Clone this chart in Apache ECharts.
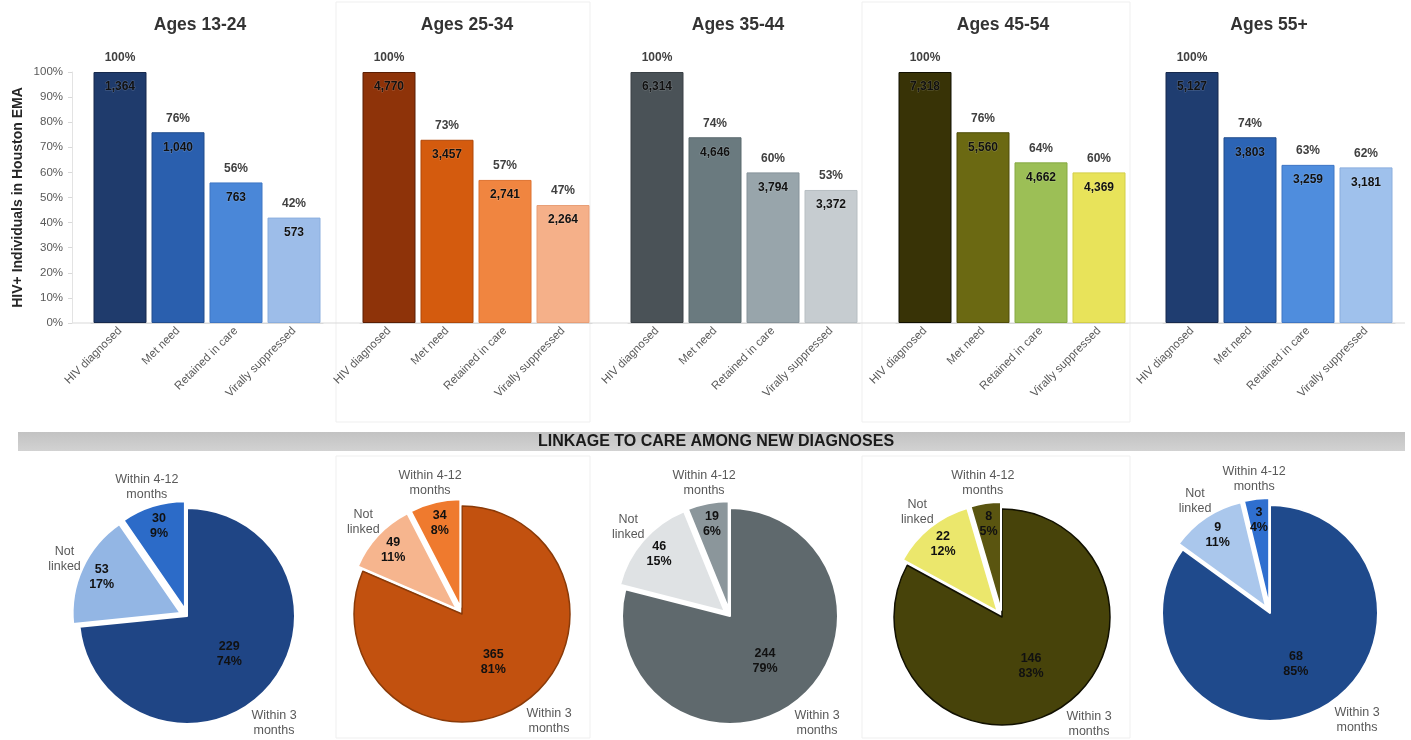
<!DOCTYPE html>
<html>
<head>
<meta charset="utf-8">
<script src="https://cdn.jsdelivr.net/npm/echarts@6/dist/echarts.min.js"></script>
<style>
  html, body { margin: 0; padding: 0; background: #fff; }
  #chart { width: 1411px; height: 740px; }
</style>
</head>
<body>
<div id="chart"></div>
<script>
// care continuum by age group
const ageGroups = ['Ages 13-24', 'Ages 25-34', 'Ages 35-44', 'Ages 45-54', 'Ages 55+'];
const stages = ['HIV diagnosed', 'Met need', 'Retained in care', 'Virally suppressed'];

const stagePct1324 = [100, 76, 56, 42];
const stagePct2534 = [100, 73, 57, 47];
const stagePct3544 = [100, 74, 60, 53];
const stagePct4554 = [100, 76, 64, 60];
const stagePct55 = [100, 74, 63, 62];

const stageCount1324 = [1364, 1040, 763, 573];
const stageCount2534 = [4770, 3457, 2741, 2264];
const stageCount3544 = [6314, 4646, 3794, 3372];
const stageCount4554 = [7318, 5560, 4662, 4369];
const stageCount55 = [5127, 3803, 3259, 3181];

// linkage to care among new diagnoses
const linkCats = ['Within 3 months', 'Not linked', 'Within 4-12 months'];
const linkLabels = ['Within 3\nmonths', 'Not\nlinked', 'Within 4-12\nmonths'];
const link1324 = [229, 53, 30];
const link2534 = [365, 49, 34];
const link3544 = [244, 46, 19];
const link4554 = [146, 22, 8];
const link55 = [68, 9, 3];
const linkPct1324 = [74, 17, 9];
const linkPct2534 = [81, 11, 8];
const linkPct3544 = [79, 15, 6];
const linkPct4554 = [83, 12, 5];
const linkPct55 = [85, 11, 4];

const stagePct = [stagePct1324, stagePct2534, stagePct3544, stagePct4554, stagePct55];
const stageCount = [stageCount1324, stageCount2534, stageCount3544, stageCount4554, stageCount55];
const link = [link1324, link2534, link3544, link4554, link55];
const linkPct = [linkPct1324, linkPct2534, linkPct3544, linkPct4554, linkPct55];

// styling
const barColors = [
  ['#1f3b6c', '#2a5fae', '#4a87d8', '#9dbde9'],
  ['#8e3309', '#d45b0e', '#f08540', '#f5b089'],
  ['#4a5257', '#6a7a7f', '#98a5ab', '#c6ccd0'],
  ['#383306', '#6b6912', '#9cbf56', '#e8e35a'],
  ['#1f3d70', '#2c64b5', '#4f8ddd', '#9fc1ec']
];
const barBorders = [
  ['#16294d', '#214c8c', '#3e76c4', '#8aaede'],
  ['#5a1e04', '#b04808', '#de7230', '#e89e76'],
  ['#3a4146', '#5b6a6f', '#86939a', '#b7bec2'],
  ['#111000', '#4e4c08', '#86a942', '#d3ce48'],
  ['#16294d', '#214c8c', '#3e76c4', '#8aaede']
];
const pieColors = [
  ['#1f4585', '#93b6e4', '#2c6bc8'],
  ['#c2510f', '#f6b58e', '#ef7a2e'],
  ['#5f696d', '#dfe2e4', '#8b969b'],
  ['#47430a', '#ebe76c', '#5a5510'],
  ['#1f4a8c', '#aac7ec', '#2f6fcf']
];
const pieMainBorder = ['#ffffff', '#8a3a08', '#ffffff', '#111000', '#ffffff'];

const gridLefts = [91, 360, 628, 896, 1163];
const titleCenters = [200, 467, 738, 1003, 1269];
const pieCenters = [[187, 616], [462, 614], [730, 616], [1002, 617], [1270, 613]];
const pieR = 108;

const grids = [], xAxes = [], yAxes = [], series = [];

ageGroups.forEach((g, i) => {
  grids.push({ left: gridLefts[i], top: 72, width: 232, height: 251, outerBoundsMode: 'none' });
  xAxes.push({
    type: 'category',
    gridIndex: i,
    data: stages,
    axisTick: { show: false },
    axisLine: { lineStyle: { color: '#d9d9d9' } },
    axisLabel: { interval: 0, rotate: 45, fontSize: 11.5, color: '#595959', margin: 6, fontFamily: 'Arial' }
  });
  const first = i === 0;
  yAxes.push({
    type: 'value',
    gridIndex: i,
    min: 0,
    max: 100,
    interval: 10,
    offset: first ? 19 : 0,
    show: first,
    name: first ? 'HIV+ Individuals in Houston EMA' : '',
    nameLocation: 'middle',
    nameGap: 47,
    nameTextStyle: { fontSize: 14, fontWeight: 'bold', color: '#262626', fontFamily: 'Arial' },
    splitLine: { show: false },
    axisLine: { show: first, lineStyle: { color: '#e3e3e3' } },
    axisTick: { show: first, length: 4, lineStyle: { color: '#d9d9d9' } },
    axisLabel: { show: first, formatter: '{value}%', fontSize: 11.5, color: '#595959', margin: 9, fontFamily: 'Arial' }
  });

  series.push({
    type: 'bar',
    xAxisIndex: i,
    yAxisIndex: i,
    barWidth: 53,
    barGap: '-100%',
    data: stagePct[i].map((v, j) => ({
      value: v,
      itemStyle: { color: barColors[i][j], borderColor: barBorders[i][j], borderWidth: 1 }
    })),
    label: {
      show: true,
      position: 'insideTop',
      distance: 9,
      fontSize: 12,
      fontWeight: 'bold',
      fontFamily: 'Arial',
      color: '#111',
      textBorderColor: 'rgba(255,255,255,0.2)',
      textBorderWidth: 1,
      formatter: p => stageCount[i][p.dataIndex].toLocaleString('en-US')
    },
    silent: true
  });
  series.push({
    type: 'bar',
    xAxisIndex: i,
    yAxisIndex: i,
    barWidth: 53,
    barGap: '-100%',
    data: stagePct[i],
    itemStyle: { color: 'rgba(0,0,0,0)' },
    label: {
      show: true,
      position: 'top',
      distance: 8,
      fontSize: 12,
      fontWeight: 'bold',
      fontFamily: 'Arial',
      color: '#404040',
      formatter: p => p.value + '%'
    },
    silent: true
  });

  const c = pieCenters[i];
  // visible pie, label for main slice
  series.push({
    type: 'pie',
    center: c,
    radius: pieR,
    startAngle: 90,
    selectedMode: 'multiple',
    selectedOffset: 7,
    silent: true,
    data: link[i].map((v, j) => ({
      value: v,
      name: linkCats[j],
      selected: j > 0,
      itemStyle: {
        color: pieColors[i][j],
        borderColor: j === 0 ? pieMainBorder[i] : '#ffffff',
        borderWidth: j === 0 && pieMainBorder[i] !== '#ffffff' ? 1.5 : 2
      },
      label: { show: j === 0 }
    })),
    label: {
      position: 'inside',
      fontSize: 12.5,
      fontWeight: 'bold',
      fontFamily: 'Arial',
      color: '#111',
      lineHeight: 15,
      formatter: p => p.value + '\n' + linkPct[i][p.dataIndex] + '%'
    },
    labelLine: { show: false }
  });
  // labels for the small slices, further out
  series.push({
    type: 'pie',
    center: c,
    radius: [60, pieR],
    startAngle: 90,
    selectedMode: 'multiple',
    selectedOffset: 7,
    silent: true,
    itemStyle: { color: 'rgba(0,0,0,0)' },
    data: link[i].map((v, j) => ({ value: v, name: linkCats[j], selected: j > 0, label: { show: j > 0 } })),
    label: {
      position: 'inside',
      fontSize: 12.5,
      fontWeight: 'bold',
      fontFamily: 'Arial',
      color: '#111',
      lineHeight: 15,
      formatter: p => p.value + '\n' + linkPct[i][p.dataIndex] + '%'
    },
    labelLine: { show: false }
  });
  // category names around the pie
  series.push({
    type: 'pie',
    center: c,
    radius: [118, 146],
    startAngle: 90,
    silent: true,
    itemStyle: { color: 'rgba(0,0,0,0)' },
    data: link[i].map((v, j) => ({ value: v, name: linkCats[j] })),
    label: {
      position: 'inside',
      fontSize: 12.5,
      fontFamily: 'Arial',
      color: '#595959',
      lineHeight: 15,
      formatter: p => linkLabels[p.dataIndex]
    },
    labelLine: { show: false },
    // the big slice's name sits low and to the right of the pie
    labelLayout: p => p.dataIndex === 0
      ? { x: c[0] + 87, y: c[1] + 107, align: 'center', verticalAlign: 'middle' }
      : {}
  });
});

const graphics = [
  { type: 'rect', z: -10, shape: { x: 336, y: 2, width: 254, height: 420 }, style: { fill: 'none', stroke: '#efefef' } },
  { type: 'rect', z: -10, shape: { x: 862, y: 2, width: 268, height: 420 }, style: { fill: 'none', stroke: '#efefef' } },
  { type: 'rect', z: -10, shape: { x: 336, y: 456, width: 254, height: 282 }, style: { fill: 'none', stroke: '#efefef' } },
  { type: 'rect', z: -10, shape: { x: 862, y: 456, width: 268, height: 282 }, style: { fill: 'none', stroke: '#efefef' } },
  { type: 'line', z: -5, shape: { x1: 72, y1: 323, x2: 1405, y2: 323 }, style: { stroke: '#d9d9d9', lineWidth: 1 } },
  {
    type: 'rect',
    shape: { x: 18, y: 432, width: 1387, height: 19 },
    style: {
      fill: new echarts.graphic.LinearGradient(0, 0, 0, 1, [
        { offset: 0, color: '#c2c2c2' },
        { offset: 1, color: '#d2d2d2' }
      ])
    }
  },
  {
    type: 'text',
    style: {
      x: 716, y: 442, text: 'LINKAGE TO CARE AMONG NEW DIAGNOSES',
      textAlign: 'center', textVerticalAlign: 'middle',
      font: 'bold 16px Arial', fill: '#1a1a1a'
    }
  }
];
ageGroups.forEach((g, i) => {
  graphics.push({
    type: 'text',
    style: {
      x: titleCenters[i], y: 25, text: g,
      textAlign: 'center', textVerticalAlign: 'middle',
      font: 'bold 17.5px Arial', fill: '#333333'
    }
  });
});

const chart = echarts.init(document.getElementById('chart'));
chart.setOption({
  animation: false,
  backgroundColor: '#ffffff',
  grid: grids,
  xAxis: xAxes,
  yAxis: yAxes,
  series: series,
  graphic: graphics
});
</script>
</body>
</html>
